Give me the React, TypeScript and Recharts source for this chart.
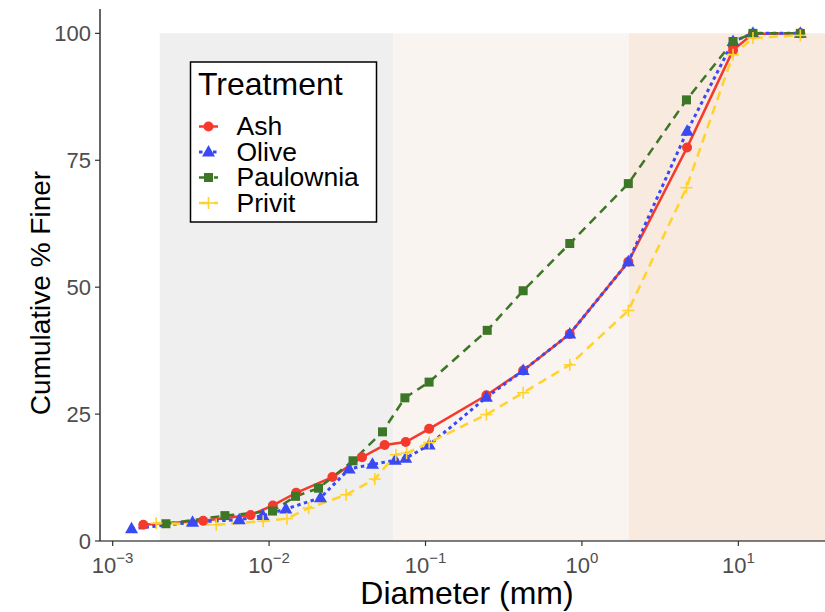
import React from "react";
import { LineChart, Line, XAxis, YAxis, ReferenceArea } from "recharts";

// sieve / hydrometer diameters (mm) and cumulative % finer
const ashDiam = [0.00157, 0.00379, 0.00762, 0.01057, 0.0149, 0.0254, 0.0393, 0.0548, 0.0747, 0.1055, 0.245, 0.421, 0.836, 1.98, 4.7, 9.25, 12.4, 24.9];
const ashPct = [3.2, 4.0, 5.1, 7.0, 9.5, 12.6, 16.5, 18.9, 19.5, 22.1, 28.7, 33.6, 40.8, 55.0, 77.5, 96.7, 99.9, 100];

const oliveDiam = [0.00132, 0.00324, 0.00644, 0.00912, 0.0128, 0.0213, 0.0325, 0.0458, 0.0641, 0.0747, 0.1055, 0.245, 0.421, 0.836, 1.98, 4.7, 9.25, 12.4, 24.9];
const olivePct = [2.4, 3.7, 4.2, 5.0, 6.3, 8.5, 14.2, 15.1, 15.9, 16.3, 18.9, 28.3, 33.6, 40.8, 55.0, 80.7, 98.4, 100, 100];

const paulDiam = [0.00219, 0.00522, 0.01052, 0.01476, 0.0207, 0.0344, 0.0531, 0.0738, 0.1054, 0.248, 0.421, 0.836, 1.98, 4.66, 9.25, 12.4, 24.9];
const paulPct = [3.4, 5.0, 5.9, 8.8, 10.4, 15.8, 21.5, 28.2, 31.3, 41.5, 49.3, 58.6, 70.4, 86.9, 98.4, 100, 100];

const privDiam = [0.0019, 0.00459, 0.00916, 0.013, 0.0179, 0.0311, 0.0474, 0.0646, 0.0757, 0.1055, 0.245, 0.421, 0.836, 1.98, 4.66, 9.25, 12.4, 24.9];
const privPct = [3.5, 3.2, 3.9, 4.4, 6.5, 9.1, 12.2, 17.0, 17.3, 19.4, 24.9, 29.2, 34.7, 45.4, 69.6, 95.8, 99.1, 99.6];

// clay / silt / sand / gravel boundaries (mm)
const zoneEdges = [0.002, 0.0625, 2];
const xTicks = [0.001, 0.01, 0.1, 1, 10];
const xTickExp = ["\u22123", "\u22122", "\u22121", "0", "1"];
const yTicks = [0, 25, 50, 75, 100];

const X_MIN = Math.pow(10, -3.081);
const X_MAX = Math.pow(10, 1.554);

const FONT = "'Liberation Sans', Arial, Helvetica, sans-serif";

const toRows = (d: number[], p: number[]) => d.map((v, i) => ({ d: v, p: p[i] }));

type Shape = "circle" | "triangle" | "square" | "plus";

const series = [
  { name: "Ash", rows: toRows(ashDiam, ashPct), color: "#F43A2C", dash: undefined as string | undefined, width: 2.5, shape: "circle" as Shape },
  { name: "Olive", rows: toRows(oliveDiam, olivePct), color: "#3B49F3", dash: "3.5 3.5", width: 3, shape: "triangle" as Shape },
  { name: "Paulownia", rows: toRows(paulDiam, paulPct), color: "#3D7626", dash: "9 6", width: 2.5, shape: "square" as Shape },
  { name: "Privit", rows: toRows(privDiam, privPct), color: "#FFD22C", dash: "9 6", width: 2.5, shape: "plus" as Shape },
];

function Marker({ shape, cx, cy, color }: { shape: Shape; cx: number; cy: number; color: string }) {
  if (shape === "circle") return <circle cx={cx} cy={cy} r={5} fill={color} />;
  if (shape === "triangle")
    return <polygon points={`${cx},${cy - 7} ${cx + 6.5},${cy + 4.5} ${cx - 6.5},${cy + 4.5}`} fill={color} />;
  if (shape === "square") return <rect x={cx - 4.5} y={cy - 4.5} width={9} height={9} fill={color} />;
  return (
    <g stroke={color} strokeWidth={1.6}>
      <line x1={cx - 6} y1={cy} x2={cx + 6} y2={cy} />
      <line x1={cx} y1={cy - 6} x2={cx} y2={cy + 6} />
    </g>
  );
}

function XTick(props: any) {
  const { x, y, payload } = props;
  const i = xTicks.indexOf(payload.value);
  return (
    <text x={x} y={y + 25} textAnchor="middle" fill="#4D4D4D" fontSize={22} fontFamily={FONT}>
      <tspan>10</tspan>
      <tspan dy={-10} fontSize={15}>{xTickExp[i]}</tspan>
    </text>
  );
}

export default function App() {
  return (
    <div style={{ position: "absolute", left: 0, top: 0, width: 825, height: 612, background: "#fff" }}>
      <LineChart width={825} height={612} margin={{ top: 9, right: 0, left: 0, bottom: 1 }}>
        <XAxis
          dataKey="d"
          type="number"
          scale="log"
          domain={[X_MIN, X_MAX]}
          allowDataOverflow
          ticks={xTicks}
          height={70}
          tick={<XTick />}
          tickSize={5}
          tickMargin={2}
          stroke="#000"
          strokeWidth={1.2}
          tickLine={{ stroke: "#333" }}
        />
        <YAxis
          type="number"
          domain={[0, 104.8]}
          allowDataOverflow
          ticks={yTicks}
          width={100}
          tickSize={5}
          tickMargin={4}
          stroke="#000"
          strokeWidth={1.2}
          tickLine={{ stroke: "#333" }}
          tick={{ fill: "#4D4D4D", fontSize: 22, fontFamily: FONT }}
        />
        <ReferenceArea x1={zoneEdges[0]} x2={zoneEdges[1]} y1={0} y2={100} fill="#EFEFEF" fillOpacity={1} stroke="none" ifOverflow="hidden" />
        <ReferenceArea x1={zoneEdges[1]} x2={zoneEdges[2]} y1={0} y2={100} fill="#F9F4F0" fillOpacity={1} stroke="none" ifOverflow="hidden" />
        <ReferenceArea x1={zoneEdges[2]} x2={X_MAX} y1={0} y2={100} fill="#F8EADF" fillOpacity={1} stroke="none" ifOverflow="hidden" />
        {series.map((s) => (
          <Line
            key={`l-${s.name}`}
            data={s.rows}
            dataKey="p"
            type="linear"
            stroke={s.color}
            strokeWidth={s.width}
            strokeDasharray={s.dash}
            dot={false}
            activeDot={false}
            isAnimationActive={false}
          />
        ))}
        {series.map((s) => (
          <Line
            key={`p-${s.name}`}
            data={s.rows}
            dataKey="p"
            type="linear"
            stroke="none"
            dot={(p: any) => (
              <Marker key={`${s.name}-${p.index}`} shape={s.shape} cx={p.cx} cy={p.cy} color={s.color} />
            )}
            activeDot={false}
            isAnimationActive={false}
          />
        ))}
      </LineChart>
      <svg width={825} height={612} style={{ position: "absolute", left: 0, top: 0, pointerEvents: "none" }}>
        <text x={467} y={604} textAnchor="middle" fontSize={32} fontFamily={FONT} fill="#000">
          Diameter (mm)
        </text>
        <text transform="translate(50,293) rotate(-90)" textAnchor="middle" fontSize={28} fontFamily={FONT} fill="#000">
          Cumulative % Finer
        </text>
        <rect x={190.5} y={62} width={186} height={160} fill="#fff" stroke="#000" strokeWidth={1.5} />
        <text x={198} y={95} fontSize={32} fontFamily={FONT} fill="#000">
          Treatment
        </text>
        {series.map((s, i) => {
          const base = 135 + i * 25.5;
          const ky = base - 8.5;
          return (
            <g key={`lg-${s.name}`}>
              <line x1={199} y1={ky} x2={218} y2={ky} stroke={s.color} strokeWidth={s.width} strokeDasharray={s.dash} />
              <Marker shape={s.shape} cx={208.5} cy={ky} color={s.color} />
              <text x={236.5} y={base} fontSize={26.5} fontFamily={FONT} fill="#000">
                {s.name}
              </text>
            </g>
          );
        })}
      </svg>
    </div>
  );
}
